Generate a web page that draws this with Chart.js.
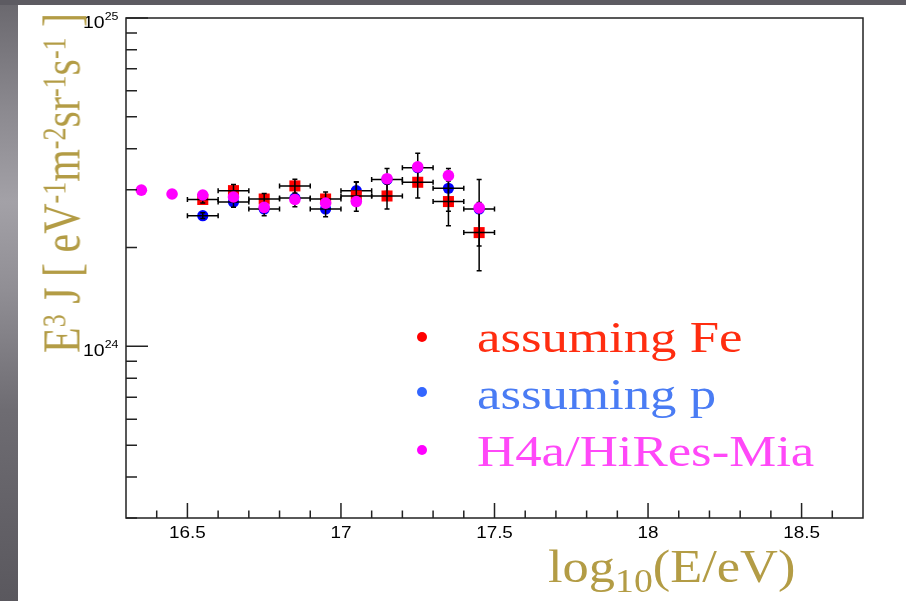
<!DOCTYPE html>
<html>
<head>
<meta charset="utf-8">
<script src="https://cdn.jsdelivr.net/npm/chart.js@4.4.0/dist/chart.umd.min.js"></script>
<style>
  html, body { margin: 0; padding: 0; }
  body { width: 906px; height: 601px; position: relative; overflow: hidden; background: #5d5b62; }
  #strip { position: absolute; left: 0; top: 5px; width: 18px; bottom: 0;
    background: linear-gradient(to bottom, #6b696f 0%, #8c8a90 18%, #a3a1a7 33%, #908e94 48%, #6e6c72 68%, #5a585e 100%); }
  #panel { position: absolute; left: 18px; top: 5px; right: 0; bottom: 0; background: #fff; }
  #spectrum { position: absolute; left: 0; top: 0; }
  .gold { position: absolute; font-family: "Liberation Serif", "Times New Roman", serif; color: #b39c45;
    white-space: nowrap; line-height: 1; }
  .sup { position: relative; top: -0.42em; font-size: 0.62em; }
  .sub { position: relative; top: 0.3em; font-size: 0.72em; }
  .leg { position: absolute; left: 477px; font-family: "Liberation Serif", "Times New Roman", serif;
    font-size: 44px; line-height: 1; white-space: nowrap; transform: scaleX(1.2); transform-origin: left top; }
  .dot { position: absolute; width: 10px; height: 10px; border-radius: 50%; }
</style>
</head>
<body>
<div id="strip"></div>
<div id="panel"></div>
<canvas id="spectrum" width="906" height="601"></canvas>

<div class="gold" style="left:35px; top:353px; font-size:42px; transform-origin:left top; transform:rotate(-90deg) scaleY(1.28);">E<span class="sup">3</span> J [ eV<span class="sup">-1</span>m<span class="sup">-2</span>sr<span class="sup">-1</span>s<span class="sup">-1</span> ]</div>
<div class="gold" style="left:548px; top:544px; font-size:46px; transform-origin:left top; transform:scaleX(1.14);">log<span class="sub">10</span>(E/eV)</div>

<div class="dot" style="left:417px; top:332px; background:#ff0000;"></div>
<div class="dot" style="left:417px; top:387px; background:#3366ff;"></div>
<div class="dot" style="left:417px; top:445px; background:#ff00ff;"></div>
<div class="leg" style="top:316px; color:#ff2d10;">assuming Fe</div>
<div class="leg" style="top:373px; color:#4a7cf4;">assuming p</div>
<div class="leg" style="top:430px; color:#ff48f8;">H4a/HiRes-Mia</div>

<script>
// axis ranges
const xMin = 16.3, xMax = 18.7;
const yMin = 3e23, yMax = 1e25;

// tick positions
const xMajorTicks = [16.5, 17, 17.5, 18, 18.5];
const xMinorTicks = [16.4, 16.6, 16.7, 16.8, 16.9, 17.1, 17.2, 17.3, 17.4, 17.6, 17.7, 17.8, 17.9, 18.1, 18.2, 18.3, 18.4, 18.6];
const xTickLabels = ["16.5", "17", "17.5", "18", "18.5"];
const yMajorTicks = [1e24, 1e25];
const yMinorTicks = [3e23, 4e23, 5e23, 6e23, 7e23, 8e23, 9e23, 2e24, 3e24, 4e24, 5e24, 6e24, 7e24, 8e24, 9e24];
const yTickExponents = ["24", "25"];

// log10(E/eV) bin centres and half width
const binCenters = [16.55, 16.65, 16.75, 16.85, 16.95, 17.05, 17.15, 17.25, 17.35, 17.45];
const binHalfWidth = 0.05;

// E^3 J in units of 1e24 eV^2 m^-2 sr^-1 s^-1
const feFlux   = [2.80, 2.98, 2.81, 3.08, 2.81, 2.87, 2.87, 3.16, 2.76, 2.22];
const feErr    = [0.07, 0.13, 0.11, 0.15, 0.14, 0.29, 0.25, 0.33, 0.43, 0.52];
const pFlux    = [2.50, 2.75, 2.62, 2.83, 2.62, 2.98, 3.22, 3.50, 3.03, 2.62];
const pErr     = [0.05, 0.10, 0.12, 0.17, 0.14, 0.19, 0.26, 0.37, 0.45, 0.60];
const h4aEnergy = [16.35, 16.45, 16.55, 16.65, 16.75, 16.85, 16.95, 17.05, 17.15, 17.25, 17.35, 17.45];
const h4aFlux   = [2.99, 2.91, 2.89, 2.85, 2.65, 2.80, 2.73, 2.76, 3.24, 3.52, 3.31, 2.64];

const toPoints = (xs, ys, errs) => xs.map((x, i) => ({
  x: x, y: ys[i] * 1e24, ex: binHalfWidth, ey: errs ? errs[i] * 1e24 : 0
}));

// error bars with end caps, drawn right after each dataset's own markers
const errorBars = {
  id: 'errorBars',
  afterDatasetDraw(chart, args) {
    const ds = chart.data.datasets[args.index];
    if (!ds.showErrors) return;
    const xs = chart.scales.x, ys = chart.scales.y, ctx = chart.ctx;
    const cap = 2.5;
    ctx.save();
    ctx.strokeStyle = '#000';
    ctx.lineWidth = 1.5;
    ds.data.forEach(p => {
      const px = xs.getPixelForValue(p.x);
      const py = ys.getPixelForValue(p.y);
      const x0 = xs.getPixelForValue(p.x - p.ex), x1 = xs.getPixelForValue(p.x + p.ex);
      const y0 = ys.getPixelForValue(p.y + p.ey), y1 = ys.getPixelForValue(p.y - p.ey);
      ctx.beginPath();
      ctx.moveTo(x0, py); ctx.lineTo(x1, py);
      ctx.moveTo(x0, py - cap); ctx.lineTo(x0, py + cap);
      ctx.moveTo(x1, py - cap); ctx.lineTo(x1, py + cap);
      ctx.moveTo(px, y0); ctx.lineTo(px, y1);
      ctx.moveTo(px - cap, y0); ctx.lineTo(px + cap, y0);
      ctx.moveTo(px - cap, y1); ctx.lineTo(px + cap, y1);
      ctx.stroke();
    });
    ctx.restore();
  }
};

// frame, inward ticks and tick labels
const frameAndTicks = {
  id: 'frameAndTicks',
  afterDraw(chart) {
    const { ctx, chartArea: a } = chart;
    const xs = chart.scales.x, ys = chart.scales.y;
    const stretch = 1.18;
    ctx.save();
    ctx.strokeStyle = '#222';
    ctx.lineWidth = 1.5;
    ctx.strokeRect(a.left, a.top, a.right - a.left, a.bottom - a.top);

    ctx.beginPath();
    xMajorTicks.forEach(v => { const x = xs.getPixelForValue(v); ctx.moveTo(x, a.bottom); ctx.lineTo(x, a.bottom - 15); });
    xMinorTicks.forEach(v => { const x = xs.getPixelForValue(v); ctx.moveTo(x, a.bottom); ctx.lineTo(x, a.bottom - 7.5); });
    yMajorTicks.forEach(v => { const y = ys.getPixelForValue(v); ctx.moveTo(a.left, y); ctx.lineTo(a.left + 22, y); });
    yMinorTicks.forEach(v => { const y = ys.getPixelForValue(v); ctx.moveTo(a.left, y); ctx.lineTo(a.left + 11, y); });
    ctx.stroke();

    ctx.fillStyle = '#000';
    ctx.textBaseline = 'alphabetic';
    ctx.font = '16px "Liberation Sans", Arial, sans-serif';
    xMajorTicks.forEach((v, i) => {
      const x = xs.getPixelForValue(v);
      const w = ctx.measureText(xTickLabels[i]).width * stretch;
      ctx.save();
      ctx.translate(x - w / 2, a.bottom + 20);
      ctx.scale(stretch, 1);
      ctx.fillText(xTickLabels[i], 0, 0);
      ctx.restore();
    });

    yMajorTicks.forEach((v, i) => {
      const y = ys.getPixelForValue(v);
      ctx.save();
      ctx.translate(83, y + 9.5);
      ctx.scale(stretch, 1);
      ctx.font = '16.5px "Liberation Sans", Arial, sans-serif';
      ctx.fillText('10', 0, 0);
      const w = ctx.measureText('10').width;
      ctx.font = '10.5px "Liberation Sans", Arial, sans-serif';
      ctx.fillText(yTickExponents[i], w, -7.5);
      ctx.restore();
    });
    ctx.restore();
  }
};

new Chart(document.getElementById('spectrum'), {
  type: 'scatter',
  data: {
    datasets: [
      { label: 'H4a/HiRes-Mia', data: toPoints(h4aEnergy, h4aFlux, null), showErrors: false,
        backgroundColor: '#ff00ff', pointStyle: 'circle', pointRadius: 5.8, pointBorderWidth: 0 },
      { label: 'assuming Fe', data: toPoints(binCenters, feFlux, feErr), showErrors: true,
        backgroundColor: '#ff0000', pointStyle: 'rect', pointRadius: 7.8, pointBorderWidth: 0 },
      { label: 'assuming p', data: toPoints(binCenters, pFlux, pErr), showErrors: true,
        backgroundColor: '#0000ff', pointStyle: 'circle', pointRadius: 5.6, pointBorderWidth: 0 }
    ]
  },
  options: {
    responsive: false,
    animation: false,
    layout: { padding: { left: 126, right: 43, top: 18, bottom: 83 } },
    plugins: { legend: { display: false }, tooltip: { enabled: false } },
    scales: {
      x: { type: 'linear', min: xMin, max: xMax, display: false },
      y: { type: 'logarithmic', min: yMin, max: yMax, display: false }
    }
  },
  plugins: [errorBars, frameAndTicks]
});
</script>
</body>
</html>
